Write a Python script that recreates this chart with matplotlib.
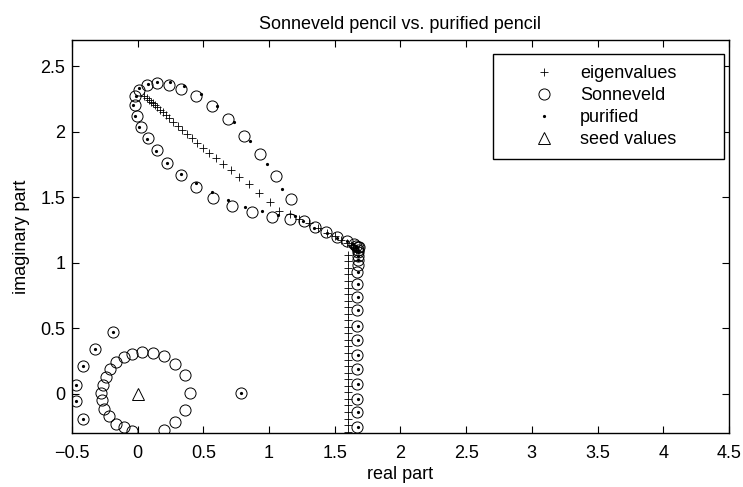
import matplotlib
matplotlib.use("Agg")
import matplotlib.pyplot as plt

plt.rcParams['font.family'] = ['Liberation Sans', 'DejaVu Sans']
plt.rcParams['font.size'] = 13

# eigenvalues (+): diagonal of the loop, bend, then the vertical column
eig_re = [0.051, 0.069, 0.084, 0.099, 0.114, 0.132, 0.150, 0.170, 0.190, 0.216,
          0.241, 0.272, 0.305, 0.338, 0.376, 0.414, 0.454, 0.500, 0.546, 0.596,
          0.647, 0.711, 0.774, 0.845, 0.921, 1.003, 1.079, 1.158, 1.230, 1.300,
          1.370, 1.440, 1.500, 1.550, 1.590, 1.620, 1.640, 1.655, 1.665,
          1.60, 1.60, 1.60, 1.60, 1.60, 1.60, 1.60, 1.60, 1.60, 1.60,
          1.60, 1.60, 1.60, 1.60, 1.60, 1.60, 1.60, 1.60, 1.60, 1.60,
          1.60, 1.60, 1.60, 1.60, 1.60, 1.60, 1.60, 1.60]
eig_im = [2.269, 2.256, 2.244, 2.228, 2.215, 2.200, 2.185, 2.167, 2.149, 2.128,
          2.103, 2.077, 2.046, 2.015, 1.982, 1.949, 1.913, 1.877, 1.838, 1.795,
          1.751, 1.705, 1.654, 1.597, 1.531, 1.462, 1.397, 1.371, 1.330, 1.300,
          1.262, 1.230, 1.200, 1.172, 1.150, 1.132, 1.120, 1.110, 1.100,
          1.06, 1.01, 0.96, 0.91, 0.86, 0.81, 0.76, 0.71, 0.66, 0.61,
          0.56, 0.51, 0.46, 0.41, 0.36, 0.31, 0.26, 0.21, 0.16, 0.11,
          0.06, 0.01, -0.04, -0.09, -0.14, -0.19, -0.24, -0.29]

# Sonneveld pencil (open circles)
son_re = [-0.018, 0.013, 0.069, 0.145, 0.236, 0.332, 0.444, 0.563, 0.685, 0.807,
          0.934, 1.053, 1.163,
          -0.018, -0.008, 0.025, 0.076, 0.145, 0.221, 0.330, 0.444, 0.576, 0.720,
          0.866, 1.019, 1.158, 1.265, 1.348, 1.432, 1.514, 1.590, 1.647, 1.686,
          1.660, 1.675, 1.680, 1.680, 1.678, 1.675, 1.673,
          1.672, 1.672, 1.672, 1.672, 1.672, 1.672, 1.672, 1.672, 1.672, 1.672,
          1.672, 1.672,
          -0.043, 0.036, 0.117, 0.198, 0.285, 0.361, 0.396, 0.361, 0.285, 0.198,
          -0.041, -0.106, -0.162, -0.220, -0.256, -0.271, -0.276, -0.264, -0.243,
          -0.213, -0.162, -0.106,
          -0.472, -0.472, -0.416, -0.416, -0.327, -0.188, 0.785]
son_im = [2.274, 2.321, 2.359, 2.372, 2.359, 2.326, 2.274, 2.192, 2.095, 1.969,
          1.826, 1.659, 1.485,
          2.200, 2.121, 2.038, 1.954, 1.859, 1.764, 1.667, 1.577, 1.495, 1.436,
          1.384, 1.352, 1.336, 1.315, 1.274, 1.231, 1.193, 1.163, 1.142, 1.117,
          1.130, 1.120, 1.100, 1.080, 1.050, 1.020, 0.980,
          0.927, 0.838, 0.736, 0.635, 0.520, 0.406, 0.292, 0.190, 0.076, -0.038,
          -0.140, -0.254,
          0.305, 0.317, 0.310, 0.287, 0.228, 0.140, 0.005, -0.127, -0.216, -0.274,
          -0.287, -0.254, -0.228, -0.170, -0.114, -0.051, 0.005, 0.069, 0.127,
          0.190, 0.241, 0.279,
          0.069, -0.056, 0.208, -0.190, 0.343, 0.470, 0.005]

# purified pencil (dots)
pur_re = [-0.015, 0.013, 0.081, 0.150, 0.249, 0.355, 0.480, 0.604, 0.731, 0.858,
          0.982, 1.099,
          -0.033, -0.018, 0.013, 0.069, 0.140, 0.223, 0.332, 0.444, 0.566, 0.690,
          0.815, 0.947, 1.071, 1.195, 1.256, 1.345, 1.437, 1.519, 1.590, 1.640,
          1.660, 1.670, 1.675, 1.680, 1.678, 1.676,
          1.675, 1.675, 1.675, 1.675, 1.675, 1.675, 1.675, 1.675, 1.675, 1.675,
          1.675, 1.675,
          -0.472, -0.472, -0.416, -0.416, -0.327, -0.188, 0.785]
pur_im = [2.274, 2.330, 2.367, 2.382, 2.379, 2.346, 2.287, 2.197, 2.077, 1.928,
          1.756, 1.564,
          2.200, 2.121, 2.033, 1.941, 1.854, 1.764, 1.679, 1.608, 1.538, 1.479,
          1.428, 1.392, 1.367, 1.356, 1.315, 1.267, 1.228, 1.190, 1.168, 1.140,
          1.130, 1.120, 1.100, 1.080, 1.050, 1.020,
          0.927, 0.838, 0.736, 0.635, 0.520, 0.406, 0.292, 0.190, 0.076, -0.038,
          -0.140, -0.254,
          0.069, -0.056, 0.208, -0.190, 0.343, 0.470, 0.005]

seed_re = [0.0]
seed_im = [0.0]

fig = plt.figure(figsize=(7.43, 4.87), dpi=100)
ax = fig.add_axes([0.097, 0.111, 0.884, 0.807])

ax.plot(eig_re, eig_im, '+', color='black', markersize=5.5, markeredgewidth=0.6,
        label='eigenvalues')
ax.plot(son_re, son_im, 'o', markerfacecolor='none', markeredgecolor='black',
        markersize=8, markeredgewidth=0.7, label='Sonneveld')
ax.plot(pur_re, pur_im, 'o', color='black', markersize=2.3, markeredgewidth=0,
        label='purified')
ax.plot(seed_re, seed_im, '^', markerfacecolor='none', markeredgecolor='black',
        markersize=9, markeredgewidth=0.7, label='seed values')

ax.set_xlim(-0.5, 4.5)
ax.set_ylim(-0.3, 2.7)
ax.set_xticks([-0.5, 0, 0.5, 1, 1.5, 2, 2.5, 3, 3.5, 4, 4.5])
ax.set_xticklabels(['\u22120.5', '0', '0.5', '1', '1.5', '2', '2.5', '3', '3.5', '4', '4.5'])
ax.set_yticks([0, 0.5, 1, 1.5, 2, 2.5])
ax.set_yticklabels(['0', '0.5', '1', '1.5', '2', '2.5'])
ax.tick_params(direction='in', top=True, right=True, length=5, width=0.8)
ax.tick_params(axis='x', pad=8.5)
ax.tick_params(axis='y', pad=5)
for s in ax.spines.values():
    s.set_linewidth(1.0)

ax.set_xlabel('real part', labelpad=3)
ax.set_ylabel('imaginary part', labelpad=7)
ax.set_title('Sonneveld pencil vs. purified pencil', fontsize=13, pad=8)

leg = ax.legend(loc='upper left', bbox_to_anchor=(0.641, 0.0, 0.352, 0.964),
                mode='expand', borderaxespad=0, fancybox=False,
                framealpha=1, edgecolor='black', handlelength=4.4,
                handletextpad=-0.2, borderpad=0.6, labelspacing=0.28)
leg.get_frame().set_linewidth(1.0)

fig.savefig('out.png', dpi=100)
